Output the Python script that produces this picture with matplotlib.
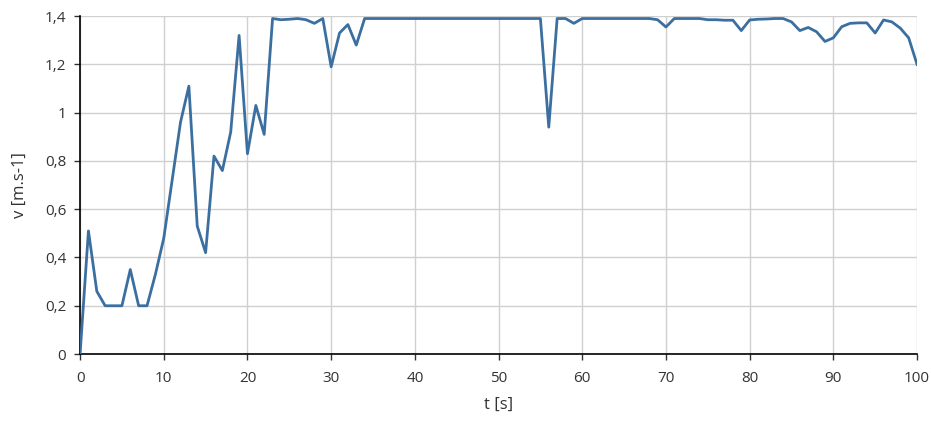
import matplotlib.pyplot as plt
from matplotlib.ticker import FuncFormatter

# time [s], one sample per second
t = list(range(0, 101))

# velocity [m.s-1]
v = [
    0.00, 0.51, 0.26, 0.20, 0.20, 0.20, 0.35, 0.20, 0.20, 0.33,
    0.48, 0.72, 0.96, 1.11, 0.53, 0.42, 0.82, 0.76, 0.92, 1.32,
    0.83, 1.03, 0.91, 1.39, 1.385, 1.387, 1.39, 1.385, 1.37, 1.39,
    1.19, 1.33, 1.365, 1.28, 1.39, 1.39, 1.39, 1.39, 1.39, 1.39,
    1.39, 1.39, 1.39, 1.39, 1.39, 1.39, 1.39, 1.39, 1.39, 1.39,
    1.39, 1.39, 1.39, 1.39, 1.39, 1.39, 0.94, 1.39, 1.39, 1.37,
    1.39, 1.39, 1.39, 1.39, 1.39, 1.39, 1.39, 1.39, 1.39, 1.385,
    1.355, 1.39, 1.39, 1.39, 1.39, 1.385, 1.385, 1.383, 1.383, 1.34,
    1.384, 1.387, 1.388, 1.39, 1.39, 1.376, 1.34, 1.353, 1.335, 1.295,
    1.31, 1.356, 1.37, 1.372, 1.372, 1.33, 1.384, 1.376, 1.35, 1.31,
    1.20,
]

x_ticks = [0, 10, 20, 30, 40, 50, 60, 70, 80, 90, 100]
y_ticks = [0, 0.2, 0.4, 0.6, 0.8, 1.0, 1.2, 1.4]

plt.rcParams['font.family'] = ['Open Sans', 'DejaVu Sans']

fig = plt.figure(figsize=(9.31, 4.24), dpi=100)
ax = fig.add_axes([0.086, 0.165, 0.899, 0.797])

ax.plot(t, v, color='#3b6fa0', linewidth=2.0, zorder=3)

ax.set_xlim(0, 100)
ax.set_ylim(0, 1.4)
ax.set_xticks(x_ticks)
ax.set_yticks(y_ticks)

# comma decimals like the original
ax.yaxis.set_major_formatter(FuncFormatter(lambda y, _: ('%g' % round(y, 1)).replace('.', ',')))

ax.grid(True, color='#d0d0d0', linewidth=1.0)
ax.set_axisbelow(True)

for side in ['top', 'right']:
    ax.spines[side].set_visible(False)
ax.spines['left'].set_color('black')
ax.spines['bottom'].set_color('black')
ax.spines['left'].set_linewidth(1.2)
ax.spines['bottom'].set_linewidth(1.2)

ax.tick_params(axis='both', direction='out', length=4, width=1, labelsize=11, colors='#333333')
ax.tick_params(axis='x', pad=8)
ax.tick_params(axis='y', pad=6)

ax.set_xlabel('t [s]', fontsize=12, color='#333333', labelpad=8)
ax.set_ylabel('v [m.s-1]', fontsize=12, color='#333333', labelpad=12)

fig.savefig('out.png', dpi=100)
